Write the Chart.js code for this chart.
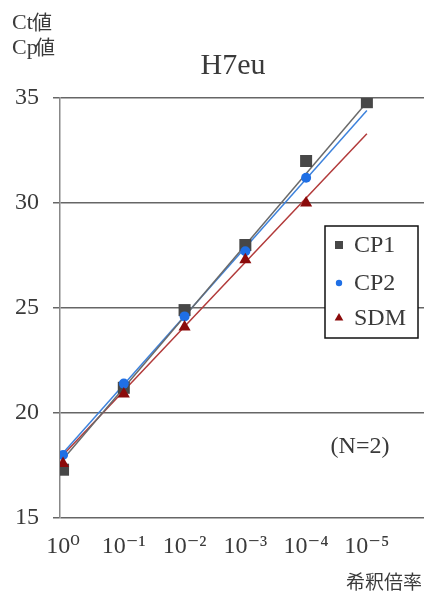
<!DOCTYPE html>
<html>
<head>
<meta charset="utf-8">
<script src="https://cdn.jsdelivr.net/npm/chart.js@4/dist/chart.umd.min.js"></script>
<style>
  html, body { margin: 0; padding: 0; background: #fff; }
  #wrap { position: relative; width: 424px; height: 602px; }
</style>
</head>
<body>
<div id="wrap"><canvas id="myChart" width="424" height="602"></canvas></div>
<script>
// dilution steps (x) and Ct / Cp values
const dilutionLabels = ['10\u2070', '10\u207B\u00B9', '10\u207B\u00B2', '10\u207B\u00B3', '10\u207B\u2074', '10\u207B\u2075'];
const cp1Values = [17.3, 21.2, 24.9, 28.0, 32.0, 34.8];
const cp2Values = [18.0, 21.4, 24.6, 27.7, 31.2, null];
const sdmValues = [17.6, 20.9, 24.1, 27.3, 30.0, null];
// trend lines: value at first and last dilution step
const cp1Trend = [17.8, 34.8];
const cp2Trend = [18.1, 34.4];
const sdmTrend = [18.0, 33.3];
const yTicks = [15, 20, 25, 30, 35];

const SERIF = "'Liberation Serif', 'DejaVu Serif', serif";
const CJK = "'Noto Sans CJK JP', sans-serif";

const toPoints = (vals) => vals
  .map((v, i) => (v == null ? null : { x: i, y: v }))
  .filter((p) => p);
const trendPoints = (t) => [{ x: 0, y: t[0] }, { x: dilutionLabels.length - 1, y: t[1] }];

const series = [
  { label: 'CP1', values: cp1Values, trend: cp1Trend, color: '#474747', line: '#6a6a6a', style: 'rect', radius: 8.5 },
  { label: 'CP2', values: cp2Values, trend: cp2Trend, color: '#1f6fe5', line: '#3d82dc', style: 'circle', radius: 5 },
  { label: 'SDM', values: sdmValues, trend: sdmTrend, color: '#8b0a0a', line: '#b23a3a', style: 'triangle', radius: 7 },
];

const datasets = [];
series.forEach((s, i) => {
  datasets.push({
    label: s.label,
    data: toPoints(s.values),
    pointStyle: s.style,
    pointRadius: s.radius,
    backgroundColor: s.color,
    borderColor: s.color,
    borderWidth: 0,
    showLine: false,
    order: 10 - i,
    isMark: true,
  });
  datasets.push({
    label: s.label + ' trend',
    data: trendPoints(s.trend),
    showLine: true,
    pointRadius: 0,
    borderColor: s.line,
    borderWidth: 1.5,
    order: 20,
  });
});

const decor = {
  id: 'decor',
  afterDraw(chart) {
    const ctx = chart.ctx;
    ctx.save();
    ctx.fillStyle = '#3a3a3a';
    ctx.textBaseline = 'middle';

    // y axis name
    ctx.textAlign = 'left';
    ctx.font = '22px ' + SERIF;
    ctx.fillText('Ct', 12, 23);
    ctx.fillText('Cp', 12, 48);
    ctx.font = '20px ' + CJK;
    ctx.fillText('値', 32, 22);
    ctx.fillText('値', 35, 47);

    // title
    ctx.textAlign = 'center';
    ctx.font = '30px ' + SERIF;
    ctx.fillText('H7eu', 233, 66);

    ctx.font = '24px ' + SERIF;
    ctx.fillText('(N=2)', 360, 447);

    ctx.textAlign = 'right';
    ctx.font = '19px ' + CJK;
    ctx.fillText('希釈倍率', 422, 582);

    // legend box
    const bx = 325, by = 226, bw = 93, bh = 112;
    ctx.fillStyle = '#fff';
    ctx.fillRect(bx, by, bw, bh);
    ctx.strokeStyle = '#111';
    ctx.lineWidth = 1.5;
    ctx.strokeRect(bx, by, bw, bh);
    const rows = [245, 283, 318];
    const marks = chart.data.datasets.filter((d) => d.isMark);
    marks.forEach((d, i) => {
      const y = rows[i];
      ctx.fillStyle = d.backgroundColor;
      ctx.strokeStyle = d.backgroundColor;
      const r = d.pointStyle === 'circle' ? 3.2 : (d.pointStyle === 'rect' ? 5.7 : 5);
      Chart.helpers.drawPoint(ctx, { pointStyle: d.pointStyle, radius: r, borderWidth: 0 }, 339, y);
      ctx.fillStyle = '#3a3a3a';
      ctx.textAlign = 'left';
      ctx.font = '24px ' + SERIF;
      ctx.fillText(d.label, 354, y + 1);
    });
    ctx.restore();
  },
};

new Chart(document.getElementById('myChart').getContext('2d'), {
  type: 'scatter',
  data: { datasets },
  options: {
    responsive: false,
    animation: false,
    layout: { autoPadding: false, padding: { top: 98, right: 0, left: 0, bottom: 0 } },
    plugins: {
      legend: { display: false },
      tooltip: { enabled: false },
    },
    scales: {
      x: {
        type: 'linear',
        min: -0.05,
        max: 5.94,
        afterBuildTicks: (scale) => {
          scale.ticks = dilutionLabels.map((_, i) => ({ value: i }));
        },
        afterFit: (scale) => {
          scale.height = 84;
          scale.paddingLeft = 0;
          scale.paddingRight = 0;
        },
        ticks: {
          callback: (v) => dilutionLabels[v],
          color: '#3a3a3a',
          font: { family: SERIF, size: 24 },
          padding: 6,
          maxRotation: 0,
          autoSkip: false,
        },
        grid: { display: false },
        border: { display: false },
      },
      y: {
        min: 15,
        max: 35,
        afterBuildTicks: (scale) => {
          scale.ticks = yTicks.map((v) => ({ value: v }));
        },
        afterFit: (scale) => { scale.width = 60; },
        ticks: {
          color: '#3a3a3a',
          font: { family: SERIF, size: 24 },
          padding: 14,
        },
        grid: { color: '#666', lineWidth: 1.5, tickLength: 7 },
        border: { display: true, color: '#888', width: 1.5 },
      },
    },
  },
  plugins: [decor],
});
</script>
</body>
</html>
